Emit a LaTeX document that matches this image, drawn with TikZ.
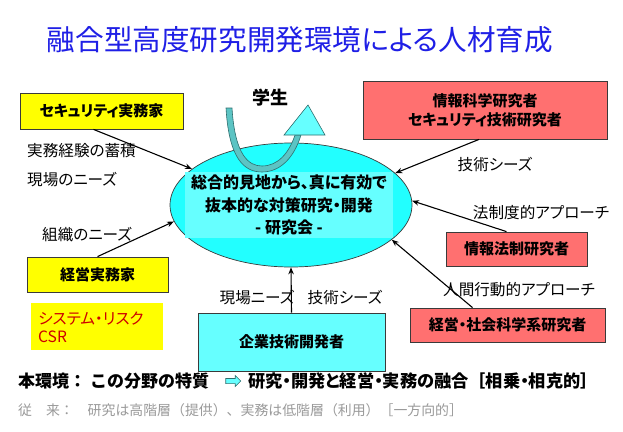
\documentclass[tikz,border=0pt]{standalone}
\usepackage{fontspec}
\setmainfont{Noto Sans CJK JP}[RawFeature=+palt]
\newfontfamily\fullwd{Noto Sans CJK JP}
\usetikzlibrary{arrows.meta, shapes.geometric, shapes.arrows}
\definecolor{ttlblue}{HTML}{1F1FE6}
\definecolor{boxyel}{HTML}{FFFF00}
\definecolor{boxred}{HTML}{FF7070}
\definecolor{ellcyan}{HTML}{22FFFF}
\definecolor{txtcyan}{HTML}{66FFFF}
\definecolor{devcyan}{HTML}{66FFFF}
\definecolor{shaftteal}{HTML}{5CC4C4}
\definecolor{shaftedge}{HTML}{2E6E6E}
\definecolor{riskred}{HTML}{CC0000}
\definecolor{oldgray}{HTML}{9A9A9A}
\definecolor{edgegray}{HTML}{3A3A3A}

\begin{document}
\begin{tikzpicture}[
  x=1pt, y=-1pt,
  >={Stealth[length=7pt, width=5.5pt]},
  rbox/.style={
    draw=edgegray, line width=0.8pt, fill=#1,
    font=\fontsize{15}{19}\selectfont\bfseries, align=center, inner sep=0pt
  },
  arr/.style={->, line width=1.1pt, black},
  lbl/.style={font=\fontsize{15.6}{18}\selectfont, inner sep=0pt},
]

% Page
\useasboundingbox (0,0) rectangle (623,431);
\fill[white] (0,0) rectangle (623,431);

% Title
\node[font=\fontsize{28.6}{30}\selectfont, text=ttlblue] (title) at (300,40)
  {融合型高度研究開発環境による人材育成};

% Central study group
\node[ellipse, draw=edgegray, line width=0.7pt, fill=ellcyan,
  minimum width=242, minimum height=124, inner sep=0pt] (res) at (291,205) {};
\node[fill=txtcyan, minimum width=208, minimum height=66, inner sep=0pt,
  font=\fontsize{16}{22.5}\selectfont\bfseries, align=center] (restxt) at (289,205)
  {総合的見地から、真に有効で\\
   抜本的な対策研究・開発\\
   - 研究会 -};

% Student arrow
\filldraw[fill=shaftteal, draw=shaftedge, line width=0.6pt]
  (226,108) .. controls (229,160) and (245,172) .. (262,172)
  .. controls (280,172) and (294,158) .. (301,135)
  -- (295,135)
  .. controls (289,153) and (278,166) .. (262,166)
  .. controls (249,166) and (235,156) .. (232,108) -- cycle;
\filldraw[fill=txtcyan, draw=shaftedge, line width=0.6pt]
  (284,135) -- (308,105) -- (325,135) -- cycle;
\node[font=\fontsize{18}{20}\selectfont\bfseries] (stud) at (270,98) {学生};

% Boxes
\node[rbox=boxyel, minimum width=163, minimum height=36] (sec) at (101.5,111)
  {セキュリティ実務家};
\node[rbox=boxred, minimum width=244, minimum height=58] (info) at (485,110)
  {情報科学研究者\\セキュリティ技術研究者};
\node[rbox=boxred, minimum width=141, minimum height=34] (law) at (516.5,249)
  {情報法制研究者};
\node[rbox=boxred, minimum width=195, minimum height=34] (soc) at (507.5,325)
  {経営・社会科学系研究者};
\node[rbox=boxyel, minimum width=141, minimum height=35] (mgr) at (97.5,274.5)
  {経営実務家};
\node[rbox=devcyan, minimum width=187, minimum height=58] (dev) at (291.5,342)
  {企業技術開発者};
\node[fill=boxyel, minimum width=132, minimum height=47, inner sep=0pt] (risk) at (97,326.5) {};
\node[anchor=west, font=\fontsize{15.6}{18}\selectfont, text=riskred, align=left,
  inner sep=0pt] (risktxt) at (38,327)
  {システム・リスク\\CSR};

% Arrows
\draw[arr] ([xshift=-8pt]sec.south) -- (res.160);
\draw[arr] (mgr.north) -- (res.188);
\draw[arr] ([xshift=-6pt]info.south) -- (res.17);
\draw[arr] ([xshift=-10pt]law.north) -- (res.2);
\draw[arr] ([xshift=-35pt]soc.north) -- (res.-19);
\draw[arr] (dev.north) -- (res.south);

% Labels
\node[lbl, anchor=west] (exp) at (27,151) {実務経験の蓄積};
\node[lbl, anchor=west] (site) at (27,180) {現場のニーズ};
\node[lbl, anchor=west] (org) at (42,235) {組織のニーズ};
\node[lbl] (seed1) at (495,165) {技術シーズ};
\node[lbl] (legal) at (541,213) {法制度的アプローチ};
\node[lbl] (human) at (519,290) {人間行動的アプローチ};
\node[lbl] (need2) at (257,298) {現場ニーズ};
\node[lbl] (seed2) at (345,298) {技術シーズ};

% Bottom notes
\node[anchor=west, font=\fullwd\fontsize{17}{19}\selectfont\bfseries, inner sep=0pt] (now) at (18,381)
  {本環境：\ この分野の特質};
\node[single arrow, fill=devcyan, draw=shaftedge, line width=0.6pt,
  minimum height=15, minimum width=11, single arrow head extend=1.5pt,
  inner sep=1pt] (mark) at (232,381) {};
\node[anchor=west, font=\fontsize{17.2}{19}\selectfont\bfseries, inner sep=0pt] (fuse) at (248,381)
  {研究・開発と経営・実務の融合{\fullwd［}相乗・相克的{\fullwd］}};
\node[anchor=west, font=\fullwd\fontsize{13.9}{16}\selectfont, text=oldgray, inner sep=0pt] (old) at (18,410)
  {従　来：　研究は高階層（提供）、実務は低階層（利用）［一方向的］};

\end{tikzpicture}
\end{document}
